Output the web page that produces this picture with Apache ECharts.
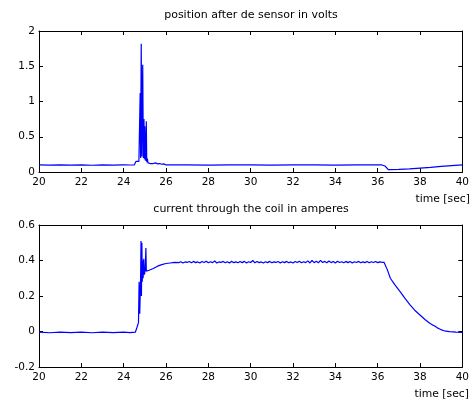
<!DOCTYPE html>
<html><head><meta charset="utf-8">
<script src="https://cdn.jsdelivr.net/npm/echarts@6/dist/echarts.min.js"></script>
<style>html,body{margin:0;padding:0;background:#fff}#c{width:472px;height:401px}</style>
</head><body><div id="c"></div>
<script>
const titleTop = "position after de sensor in volts";
const titleBottom = "current through the coil in amperes";
const xName = "time [sec]";

const posTime  = [20,20.5,21,21.5,22,22.5,23,23.5,24,24.3,24.5,24.58,24.65,24.72,24.76,24.78,24.8,24.83,24.86,24.9,24.93,24.96,24.98,25.0,25.03,25.05,25.07,25.09,25.12,25.15,25.2,25.25,25.3,25.4,25.5,25.6,25.7,25.8,25.9,26.0,26.25,26.3,26.35,27,28,29,30,31,32,33,34,35,36,36.2,36.35,36.5,37,37.5,38,38.5,39,39.5,40];
const posVolts = [0.10,0.097,0.10,0.098,0.10,0.096,0.10,0.098,0.10,0.099,0.10,0.15,0.17,0.15,0.14,1.12,0.2,1.82,0.22,1.52,0.2,0.75,0.18,0.65,0.16,0.2,0.72,0.14,0.19,0.13,0.15,0.12,0.14,0.12,0.13,0.115,0.12,0.11,0.115,0.10,0.10,0.125,0.10,0.10,0.098,0.10,0.10,0.098,0.10,0.10,0.098,0.10,0.10,0.10,0.085,0.035,0.038,0.045,0.055,0.065,0.08,0.09,0.10];

const curTime = [20,20.5,21,21.5,22,22.5,23,23.5,24,24.3,
  24.55,24.62,24.7,24.73,24.76,24.8,24.82,24.84,24.86,24.88,
  24.9,24.92,24.95,24.98,25.02,25.05,25.07,25.1,25.2,25.4,
  25.6,25.8,26.0,26.2,26.4,
  26.6,26.7,26.8,26.9,27.0,27.1,27.2,27.3,27.4,27.5,
  27.6,27.7,27.8,27.9,28.0,28.1,28.2,28.3,28.4,28.5,
  28.6,28.7,28.8,28.9,29.0,29.1,29.2,29.3,29.4,29.5,
  29.6,29.7,29.8,29.9,30.0,30.1,30.2,30.3,30.4,30.5,
  30.6,30.7,30.8,30.9,31.0,31.1,31.2,31.3,31.4,31.5,
  31.6,31.7,31.8,31.9,32.0,32.1,32.2,32.3,32.4,32.5,
  32.6,32.7,32.8,32.9,33.0,33.1,33.2,33.3,33.4,33.5,
  33.6,33.7,33.8,33.9,34.0,34.1,34.2,34.3,34.4,34.5,
  34.6,34.7,34.8,34.9,35.0,35.1,35.2,35.3,35.4,35.5,
  35.6,35.7,35.8,35.9,36.0,36.1,36.2,
  36.3,36.45,36.6,36.8,37.06,37.3,37.53,37.75,38.0,38.25,
  38.46,38.6,38.7,38.8,38.93,39.05,39.15,39.4,39.7,40];
const curAmps = [-0.004,-0.007,-0.003,-0.006,-0.004,-0.007,-0.003,-0.006,-0.004,-0.006,
  -0.004,0.02,0.05,0.28,0.1,0.3,0.51,0.2,0.5,0.28,
  0.4,0.3,0.41,0.32,0.35,0.47,0.34,0.33,0.345,0.355,
  0.368,0.377,0.383,0.386,0.389,
  0.388,0.393,0.386,0.392,0.389,0.394,0.387,0.395,0.388,0.392,
  0.386,0.394,0.389,0.396,0.387,0.393,0.388,0.397,0.386,0.392,
  0.389,0.395,0.387,0.393,0.386,0.396,0.388,0.392,0.387,0.394,
  0.388,0.395,0.386,0.393,0.389,0.400,0.387,0.394,0.388,0.392,
  0.386,0.393,0.388,0.395,0.387,0.392,0.389,0.394,0.386,0.393,
  0.388,0.395,0.387,0.392,0.386,0.394,0.389,0.396,0.387,0.393,
  0.388,0.398,0.386,0.400,0.388,0.396,0.387,0.401,0.389,0.395,
  0.387,0.397,0.388,0.394,0.386,0.396,0.389,0.393,0.387,0.395,
  0.388,0.394,0.386,0.393,0.389,0.395,0.387,0.392,0.388,0.394,
  0.387,0.393,0.389,0.394,0.388,0.392,0.390,
  0.39,0.35,0.30,0.265,0.225,0.185,0.15,0.12,0.093,0.066,
  0.046,0.036,0.031,0.022,0.014,0.008,0.004,-0.001,-0.004,-0.005];

const gridL = 39, gridR = 6;
const axCol = '#000';
const fontFam = '"DejaVu Sans", Arial, sans-serif';

function xAx(grid, pos, labels){
  return {type:'value', gridIndex:grid, position:pos, min:20, max:40, interval:2,
    axisLine:{show:true, onZero:false, lineStyle:{color:axCol,width:1}},
    axisTick:{show:true, inside:true, length:4, lineStyle:{color:axCol}},
    axisLabel:{show:labels, color:'#000', fontSize:10.5, fontFamily:fontFam, margin:5},
    splitLine:{show:false}};
}
function yAx(grid, pos, labels, min, max, itv){
  return {type:'value', gridIndex:grid, position:pos, min:min, max:max, interval:itv,
    axisLine:{show:true, onZero:false, lineStyle:{color:axCol,width:1}},
    axisTick:{show:true, inside:true, length:4, lineStyle:{color:axCol}},
    axisLabel:{show:labels, color:'#000', fontSize:10.5, fontFamily:fontFam, margin:4,
      formatter: v => String(Math.round(v*10)/10)},
    splitLine:{show:false}};
}
function txt(s, x, y, align, size){
  return {type:'text', x:x, y:y, silent:true,
    style:{text:s, fill:'#000', font: size + 'px ' + fontFam, textAlign:align, textVerticalAlign:'middle'}};
}

const chart = echarts.init(document.getElementById('c'), null, {renderer:'canvas'});
chart.setOption({
  animation:false,
  backgroundColor:'#fff',
  graphic:[
    txt(titleTop, 251, 15, 'center', 11),
    txt(titleBottom, 251, 209, 'center', 11),
    txt(xName, 470, 199, 'right', 10.8),
    txt(xName, 469, 394, 'right', 10.8)
  ],
  grid:[
    {left:gridL, right:gridR, top:31, height:141},
    {left:gridL, right:gridR, top:225, height:142}
  ],
  xAxis:[xAx(0,'bottom',true), xAx(0,'top',false), xAx(1,'bottom',true), xAx(1,'top',false)],
  yAxis:[yAx(0,'left',true,0,2,0.5), yAx(0,'right',false,0,2,0.5),
         yAx(1,'left',true,-0.2,0.6,0.2), yAx(1,'right',false,-0.2,0.6,0.2)],
  series:[
    {type:'line', xAxisIndex:0, yAxisIndex:0, showSymbol:false, symbol:'none',
     lineStyle:{color:'#0000ff', width:1.2}, data: posTime.map((t,i)=>[t,posVolts[i]])},
    {type:'line', xAxisIndex:2, yAxisIndex:2, showSymbol:false, symbol:'none',
     lineStyle:{color:'#0000ff', width:1.2}, data: curTime.map((t,i)=>[t,curAmps[i]])}
  ]
});
</script></body></html>
